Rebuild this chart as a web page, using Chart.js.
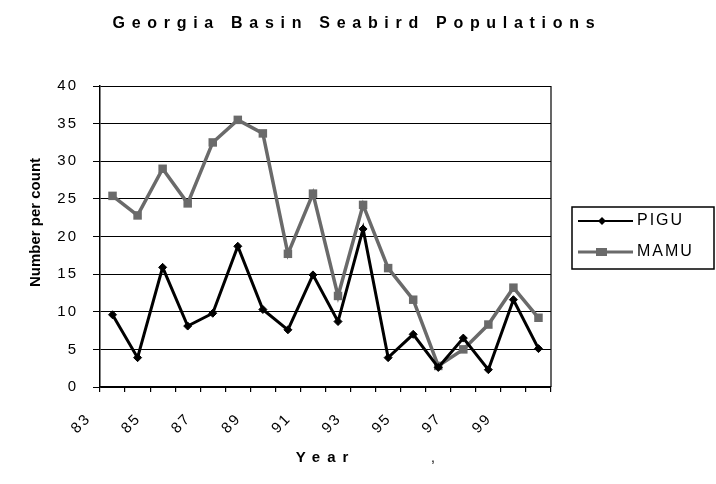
<!DOCTYPE html>
<html>
<head>
<meta charset="utf-8">
<script src="https://cdn.jsdelivr.net/npm/chart.js@4.4.1/dist/chart.umd.min.js"></script>
<style>
html,body{margin:0;padding:0;background:#fff;}
#wrap{width:716px;height:484px;}
</style>
</head>
<body>
<div id="wrap"><canvas id="c" width="716" height="484"></canvas></div>
<script>
// ---- data ----
const years = ['83','84','85','86','87','88','89','90','91','92','93','94','95','96','97','98','99','00'];
const pigu  = [9.6, 3.9, 15.9, 8.1, 9.8, 18.7, 10.3, 7.6, 14.9, 8.7, 21.0, 3.9, 7.0, 2.6, 6.5, 2.3, 11.6, 5.1];
const mamu  = [25.4, 22.8, 29.0, 24.4, 32.5, 35.5, 33.7, 17.7, 25.7, 12.1, 24.2, 15.8, 11.6, 2.8, 5.0, 8.3, 13.2, 9.2];
const seriesNames = ['PIGU', 'MAMU'];
const yMin = 0, yMax = 40, yStep = 5;
const titleText = 'Georgia Basin Seabird Populations';
const xTitle = 'Year';
const yTitle = 'Number per count';

// ---- styling ----
const FONT = "'Liberation Sans', Arial, sans-serif";
const GRAY = '#6a6a6a';

function sampleImg(color, lw, marker) {
  const c = document.createElement('canvas');
  c.width = 71; c.height = 14;
  const g = c.getContext('2d');
  g.strokeStyle = color; g.lineWidth = lw;
  g.beginPath(); g.moveTo(16, 7); g.lineTo(71, 7); g.stroke();
  g.fillStyle = color;
  if (marker === 'diamond') {
    g.beginPath(); g.moveTo(40, 3); g.lineTo(44, 7); g.lineTo(40, 11); g.lineTo(36, 7); g.closePath(); g.fill();
  } else {
    g.fillRect(34, 3, 11, 8);
  }
  return c;
}
const legendImgs = [sampleImg('#000', 2, 'diamond'), sampleImg(GRAY, 3, 'square')];

// measure legend text so the plot area ends where the reference does
const mc = document.createElement('canvas').getContext('2d');
mc.font = '16px ' + FONT;
const legTextW = Math.max(...seriesNames.map(s => mc.measureText(s).width));
const legPad = 15, legBoxW = 63;
const legendWidth = legPad + legBoxW + 8 + legTextW + 10;
const padRight = 716 - 551 - legendWidth;

function wrapSpacing(obj, name, sp, dx, dy) {
  if (!obj || obj['__w_' + name]) return;
  const orig = obj[name];
  obj[name] = function (...args) {
    const ctx = this.ctx;
    ctx.save();
    ctx.letterSpacing = sp;
    if (dx || dy) ctx.translate(dx || 0, dy || 0);
    const r = orig.apply(this, args);
    ctx.restore();
    return r;
  };
  obj['__w_' + name] = true;
}

const decor = {
  id: 'decor',
  beforeDraw(chart) {
    chart.ctx.letterSpacing = '2px';
    wrapSpacing(chart.titleBlock, 'draw', '6.7px', 9, 1);
    wrapSpacing(chart.legend, 'draw', '2px');
    wrapSpacing(chart.scales.x, 'drawTitle', '7px');
    wrapSpacing(chart.scales.y, 'drawTitle', '0px', 0, -14);
  },
  afterDraw(chart) {
    const ctx = chart.ctx;
    const a = chart.chartArea;
    ctx.save();
    ctx.letterSpacing = '0px';
    // plot area right border
    ctx.strokeStyle = '#000'; ctx.lineWidth = 1.2;
    ctx.beginPath(); ctx.moveTo(a.right, a.top); ctx.lineTo(a.right, a.bottom); ctx.stroke();
    // legend frame
    const hb = chart.legend.legendHitBoxes;
    if (hb && hb.length) {
      const l = hb[0].left + 6, t = hb[0].top - 6;
      const last = hb[hb.length - 1];
      const b = last.top + last.height + 9;
      ctx.lineWidth = 1.5;
      ctx.strokeRect(l, t, 142, b - t);
    }
    // stray comma present in the reference
    ctx.fillStyle = '#000';
    ctx.font = '14px ' + FONT;
    ctx.textAlign = 'center'; ctx.textBaseline = 'alphabetic';
    ctx.fillText(',', 433, 462);
    ctx.restore();
    ctx.letterSpacing = '0px';
  }
};

new Chart(document.getElementById('c'), {
  type: 'line',
  data: {
    labels: years,
    datasets: [
      {
        label: seriesNames[0], data: pigu,
        borderColor: '#000', backgroundColor: '#000', borderWidth: 3,
        pointStyle: 'rectRot', pointRadius: 4, pointHoverRadius: 4,
        pointBackgroundColor: '#000', pointBorderColor: '#000', pointBorderWidth: 1,
        tension: 0, fill: false, order: 1
      },
      {
        label: seriesNames[1], data: mamu,
        borderColor: GRAY, backgroundColor: GRAY, borderWidth: 3.5,
        pointStyle: 'rect', pointRadius: 6, pointHoverRadius: 6,
        pointBackgroundColor: GRAY, pointBorderColor: GRAY, pointBorderWidth: 0,
        tension: 0, fill: false, order: 2
      }
    ]
  },
  options: {
    responsive: false,
    animation: false,
    devicePixelRatio: 1,
    events: [],
    layout: { padding: { left: 0, right: padRight, top: 0, bottom: 0 } },
    plugins: {
      tooltip: { enabled: false },
      title: {
        display: true, text: titleText, color: '#000',
        font: { family: FONT, size: 16, weight: 'bold', lineHeight: 1.2 },
        padding: { top: 13, bottom: 53.8 }
      },
      legend: {
        display: true, position: 'right', align: 'center', fullSize: false,
        labels: {
          color: '#000', font: { family: FONT, size: 16 },
          usePointStyle: true, pointStyleWidth: legBoxW, padding: legPad,
          generateLabels: (chart) => chart.data.datasets.map((ds, i) => ({
            text: ds.label, pointStyle: legendImgs[i], fillStyle: ds.borderColor,
            strokeStyle: ds.borderColor, lineWidth: 0, hidden: false, datasetIndex: i, fontColor: '#000'
          }))
        }
      }
    },
    scales: {
      x: {
        type: 'category', offset: true,
        grid: { display: true, drawOnChartArea: false, drawTicks: true, tickLength: 5, offset: true, color: '#000', lineWidth: 1.2 },
        border: { display: true, color: '#000', width: 1.5 },
        ticks: {
          autoSkip: false, maxRotation: 45, minRotation: 45, color: '#000',
          font: { family: FONT, size: 15 }, padding: 18, labelOffset: -24,
          callback: (v, i) => (i % 2 === 0 ? years[i] : '')
        },
        title: {
          display: true, text: xTitle, color: '#000',
          font: { family: FONT, size: 15, weight: 'bold', lineHeight: 1.2 },
          padding: { top: 0, bottom: 17.5 }
        },
        afterFit: (s) => { s.height = 97; }
      },
      y: {
        min: yMin, max: yMax,
        grid: { display: true, drawTicks: true, tickLength: 7, color: '#000', lineWidth: 1 },
        border: { display: true, color: '#000', width: 1.5 },
        ticks: { stepSize: yStep, color: '#000', font: { family: FONT, size: 15 }, padding: 15 },
        title: {
          display: true, text: yTitle, color: '#000',
          font: { family: FONT, size: 15, weight: 'bold', lineHeight: 1.2 },
          padding: { top: 26.5, bottom: 0 }
        },
        afterFit: (s) => { s.width = 100; }
      }
    }
  },
  plugins: [decor]
});
</script>
</body>
</html>
